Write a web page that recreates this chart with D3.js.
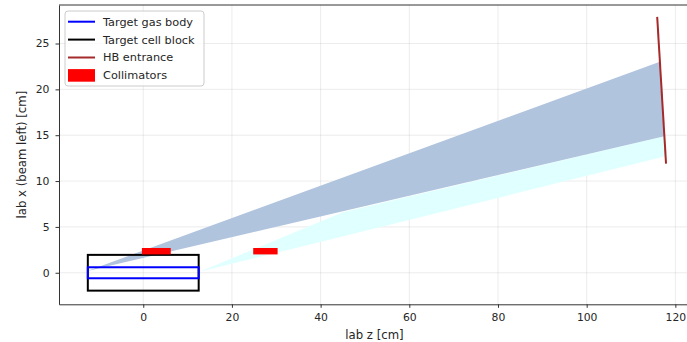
<!DOCTYPE html>
<html>
<head>
<meta charset="utf-8">
<script src="https://cdn.jsdelivr.net/npm/d3@7"></script>
<style>
  html, body { margin: 0; padding: 0; background: #fff; }
  svg { display: block; font-family: "DejaVu Sans", sans-serif; }
</style>
</head>
<body>
<svg id="chart" width="687" height="342"></svg>
<script>
// Axis ticks
const zTicks = [0, 20, 40, 60, 80, 100, 120];
const xTicks = [0, 5, 10, 15, 20, 25];

// Target gas body and target cell block (z range, x range) in cm
const gasBodyZ = [-12.5, 12.5];
const gasBodyX = [-0.6, 0.6];
const cellBlockZ = [-12.5, 12.5];
const cellBlockX = [-1.95, 1.95];

// HB entrance line endpoints
const hbEntranceZ = [115.9, 117.9];
const hbEntranceX = [27.9, 11.9];

// Collimator blocks
const collimatorZ0 = [-0.3, 24.8];
const collimatorZ1 = [6.2, 30.3];
const collimatorX0 = [2.0, 2.0];
const collimatorX1 = [2.7, 2.7];

// Accepted beam envelope (polygon)
const acceptedZ = [-12.6, 116.5, 117.5];
const acceptedX = [0.2, 23.0, 14.9];

// Wider envelope behind it (polygon)
const envelopeZ = [12.7, 45.0, 117.5, 117.8];
const envelopeX = [0.1, 6.6, 14.9, 12.7];

// Legend entries
const legendLabels = ["Target gas body", "Target cell block", "HB entrance", "Collimators"];
const legendColors = ["#0000ff", "#000000", "#a52a2a", "#ff0000"];
const legendKinds = ["line", "line", "line", "patch"];

(function draw() {
  const svg = d3.select("#chart");
  const mLeft = 59, mRight = 690, mTop = 5, mBottom = 304.3;
  const textColor = "#262626";

  const z = d3.scaleLinear().domain([-19.0, 123.3]).range([mLeft, mRight]);
  const x = d3.scaleLinear().domain([-3.44, 29.2]).range([mBottom, mTop]);

  // grid
  const grid = svg.append("g");
  grid.selectAll("line.gz").data(zTicks).join("line")
    .attr("x1", d => z(d)).attr("x2", d => z(d))
    .attr("y1", mTop).attr("y2", mBottom)
    .attr("stroke", "#b0b0b0").attr("stroke-opacity", 0.3).attr("stroke-width", 0.8);
  grid.selectAll("line.gx").data(xTicks).join("line")
    .attr("y1", d => x(d)).attr("y2", d => x(d))
    .attr("x1", mLeft).attr("x2", mRight)
    .attr("stroke", "#b0b0b0").attr("stroke-opacity", 0.3).attr("stroke-width", 0.8);

  // envelopes
  const poly = (zs, xs) => zs.map((v, i) => [z(v), x(xs[i])].join(",")).join(" ");
  svg.append("polygon").attr("points", poly(envelopeZ, envelopeX)).attr("fill", "#e0ffff");
  svg.append("polygon").attr("points", poly(acceptedZ, acceptedX)).attr("fill", "#b0c4de");

  // cell block and gas body
  svg.append("rect")
    .attr("x", z(cellBlockZ[0])).attr("y", x(cellBlockX[1]))
    .attr("width", z(cellBlockZ[1]) - z(cellBlockZ[0]))
    .attr("height", x(cellBlockX[0]) - x(cellBlockX[1]))
    .attr("fill", "none").attr("stroke", "#000").attr("stroke-width", 2);
  svg.append("rect")
    .attr("x", z(gasBodyZ[0])).attr("y", x(gasBodyX[1]))
    .attr("width", z(gasBodyZ[1]) - z(gasBodyZ[0]))
    .attr("height", x(gasBodyX[0]) - x(gasBodyX[1]))
    .attr("fill", "none").attr("stroke", "#0000ff").attr("stroke-width", 2);

  // collimators
  svg.selectAll("rect.coll").data(collimatorZ0).join("rect")
    .attr("x", d => z(d))
    .attr("y", (d, i) => x(collimatorX1[i]))
    .attr("width", (d, i) => z(collimatorZ1[i]) - z(d))
    .attr("height", (d, i) => x(collimatorX0[i]) - x(collimatorX1[i]))
    .attr("fill", "#ff0000");

  // HB entrance
  svg.append("line")
    .attr("x1", z(hbEntranceZ[0])).attr("y1", x(hbEntranceX[0]))
    .attr("x2", z(hbEntranceZ[1])).attr("y2", x(hbEntranceX[1]))
    .attr("stroke", "#a52a2a").attr("stroke-width", 2);

  // axes
  const axisColor = "#333";
  const gx = svg.append("g").attr("transform", `translate(0,${mBottom})`)
    .call(d3.axisBottom(z).tickValues(zTicks).tickSizeInner(3.5).tickSizeOuter(0).tickPadding(5.5));
  const gy = svg.append("g").attr("transform", `translate(${mLeft},0)`)
    .call(d3.axisLeft(x).tickValues(xTicks).tickSizeInner(3.5).tickSizeOuter(0).tickPadding(6));
  [gx, gy].forEach(g => {
    g.select(".domain").attr("stroke", axisColor).attr("stroke-width", 1);
    g.selectAll(".tick line").attr("stroke", axisColor);
    g.selectAll(".tick text").attr("fill", textColor).attr("font-size", 10.8)
      .attr("font-family", "DejaVu Sans, sans-serif");
  });
  // top spine
  svg.append("line").attr("x1", mLeft).attr("x2", mRight).attr("y1", mTop).attr("y2", mTop)
    .attr("stroke", axisColor).attr("stroke-width", 1);

  // axis labels
  svg.append("text").attr("x", (mLeft + mRight) / 2).attr("y", 338.5)
    .attr("text-anchor", "middle").attr("font-size", 11.7).attr("fill", textColor)
    .text("lab z [cm]");
  svg.append("text")
    .attr("transform", `translate(26,${(mTop + mBottom) / 2}) rotate(-90)`)
    .attr("text-anchor", "middle").attr("font-size", 11.7).attr("fill", textColor)
    .text("lab x (beam left) [cm]");

  // legend
  const lg = svg.append("g");
  lg.append("rect").attr("x", 65).attr("y", 11).attr("width", 139).attr("height", 75)
    .attr("rx", 3).attr("fill", "#fff").attr("fill-opacity", 0.8)
    .attr("stroke", "#cccccc").attr("stroke-width", 1);
  legendLabels.forEach((lab, i) => {
    const cy = 21.7 + i * 17.9;
    if (legendKinds[i] === "line") {
      lg.append("line").attr("x1", 68).attr("x2", 95).attr("y1", cy).attr("y2", cy)
        .attr("stroke", legendColors[i]).attr("stroke-width", 2);
    } else {
      lg.append("rect").attr("x", 68).attr("y", cy - 6.3).attr("width", 27).attr("height", 12.6)
        .attr("fill", legendColors[i]);
    }
    lg.append("text").attr("x", 103).attr("y", cy).attr("dy", "0.35em")
      .attr("font-size", 11.3).attr("fill", textColor).text(lab);
  });
})();
</script>
</body>
</html>
